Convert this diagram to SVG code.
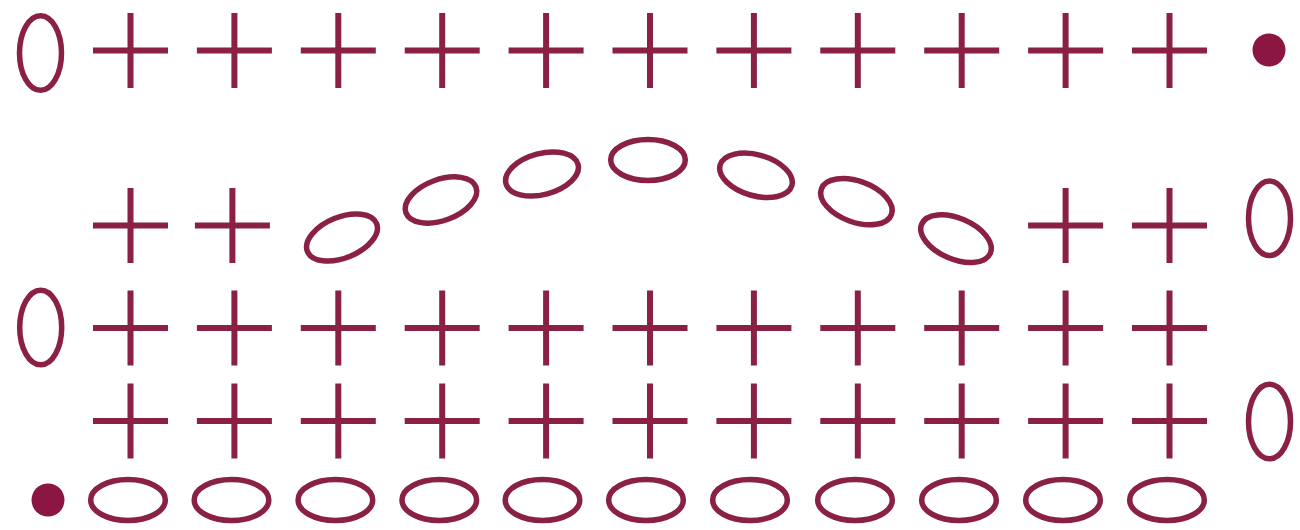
<svg xmlns="http://www.w3.org/2000/svg" xmlns:xlink="http://www.w3.org/1999/xlink" width="1300" height="530" viewBox="0 0 1300 530">
<style>
.s{fill:none;stroke:#8A2143;stroke-width:6}
.o{fill:none;stroke:#8A2143;stroke-width:5.5}
.d{fill:#8A1641}
</style>
<defs>
<path id="plus" class="s" d="M-37.5 0H37.5M0 -37.5V37.5"/>
<ellipse id="ch" class="o" cx="0" cy="0" rx="37.3" ry="20.5"/>
<ellipse id="vch" class="o" cx="0" cy="0" rx="21" ry="37.3"/>
</defs>
<rect width="1300" height="530" fill="#fff"/>
<g id="connectors"></g>
<g id="row1">
<g id="r1-turn"><use href="#vch" x="40.5" y="53"/></g>
<g id="r1-sc"><use href="#plus" x="130.5" y="50.5"/><use href="#plus" x="234.4" y="50.5"/><use href="#plus" x="338.3" y="50.5"/><use href="#plus" x="442.2" y="50.5"/><use href="#plus" x="546.1" y="50.5"/><use href="#plus" x="650" y="50.5"/><use href="#plus" x="753.9" y="50.5"/><use href="#plus" x="857.8" y="50.5"/><use href="#plus" x="961.7" y="50.5"/><use href="#plus" x="1065.6" y="50.5"/><use href="#plus" x="1169.5" y="50.5"/></g>
<g id="r1-end"><circle class="d" cx="1269" cy="50" r="16.5"/></g>
</g>
<g id="row2">
<g id="r2-sc-left"><use href="#plus" x="130.5" y="225.5"/><use href="#plus" x="232.4" y="225.5"/></g>
<g id="r2-chain">
<ellipse class="o" cx="0" cy="0" rx="37.3" ry="20.5" transform="translate(342 237.5) rotate(-22)"/>
<ellipse class="o" cx="0" cy="0" rx="37.3" ry="20.5" transform="translate(441 200) rotate(-20)"/>
<ellipse class="o" cx="0" cy="0" rx="37.3" ry="20.5" transform="translate(542 174) rotate(-15)"/>
<ellipse class="o" cx="0" cy="0" rx="37.3" ry="20.5" transform="translate(648 160)"/>
<ellipse class="o" cx="0" cy="0" rx="37.3" ry="20.5" transform="translate(756 175.3) rotate(16)"/>
<ellipse class="o" cx="0" cy="0" rx="37.3" ry="20.5" transform="translate(856.4 201.7) rotate(20)"/>
<ellipse class="o" cx="0" cy="0" rx="37.3" ry="20.5" transform="translate(956 238.7) rotate(23)"/>
</g>
<g id="r2-sc-right"><use href="#plus" x="1065.6" y="225.5"/><use href="#plus" x="1169.5" y="225.5"/></g>
<g id="r2-turn"><use href="#vch" x="1269.5" y="218.3"/></g>
</g>
<g id="row3">
<g id="r3-turn"><use href="#vch" x="40.7" y="327.5"/></g>
<g id="r3-sc"><use href="#plus" x="130.5" y="328"/><use href="#plus" x="234.4" y="328"/><use href="#plus" x="338.3" y="328"/><use href="#plus" x="442.2" y="328"/><use href="#plus" x="546.1" y="328"/><use href="#plus" x="650" y="328"/><use href="#plus" x="753.9" y="328"/><use href="#plus" x="857.8" y="328"/><use href="#plus" x="961.7" y="328"/><use href="#plus" x="1065.6" y="328"/><use href="#plus" x="1169.5" y="328"/></g>
</g>
<g id="row4">
<g id="r4-sc"><use href="#plus" x="130.5" y="421"/><use href="#plus" x="234.4" y="421"/><use href="#plus" x="338.3" y="421"/><use href="#plus" x="442.2" y="421"/><use href="#plus" x="546.1" y="421"/><use href="#plus" x="650" y="421"/><use href="#plus" x="753.9" y="421"/><use href="#plus" x="857.8" y="421"/><use href="#plus" x="961.7" y="421"/><use href="#plus" x="1065.6" y="421"/><use href="#plus" x="1169.5" y="421"/></g>
<g id="r4-turn"><use href="#vch" x="1269.5" y="421.5"/></g>
</g>
<g id="foundation">
<g id="start"><circle class="d" cx="48" cy="500" r="16.5"/></g>
<g id="f-chain"><use href="#ch" x="128" y="500"/><use href="#ch" x="231.5" y="500"/><use href="#ch" x="335.4" y="500"/><use href="#ch" x="439.3" y="500"/><use href="#ch" x="542.5" y="500"/><use href="#ch" x="646" y="500"/><use href="#ch" x="750" y="500"/><use href="#ch" x="855" y="500"/><use href="#ch" x="959" y="500"/><use href="#ch" x="1063" y="500"/><use href="#ch" x="1167" y="500"/></g>
</g>
</svg>
